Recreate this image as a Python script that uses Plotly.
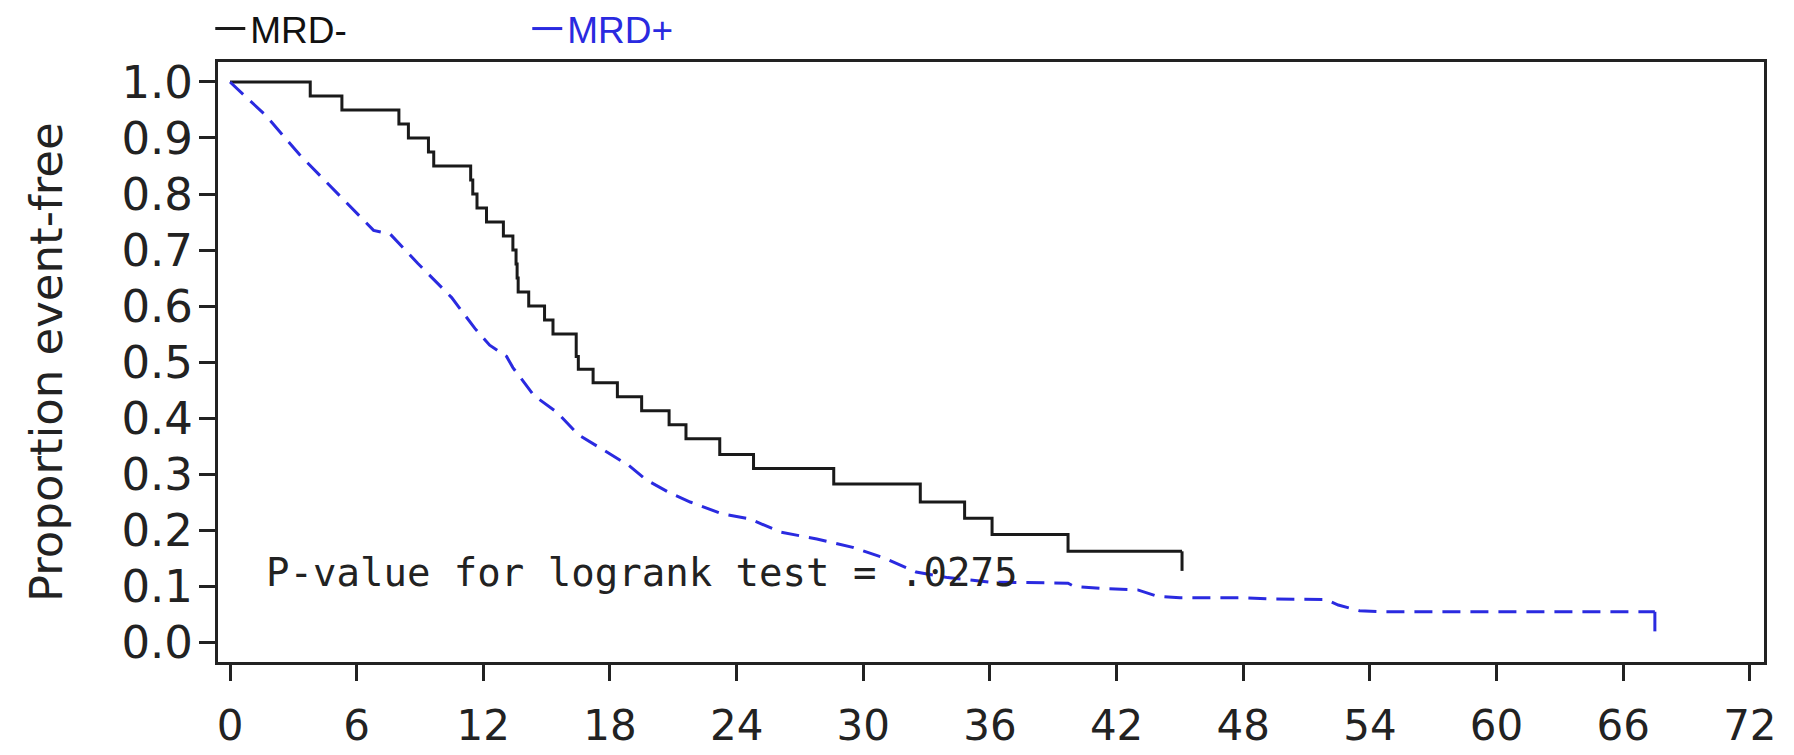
import plotly.graph_objects as go

# MRD- (black, step function; last point = censored end)
mrd_neg_time = [0, 3.8, 5.3, 8.0, 8.45, 9.4, 9.65, 11.4, 11.5, 11.7, 12.15, 12.95, 13.4,
                13.55, 13.6, 13.65, 14.15, 14.9, 15.3, 16.4, 16.5, 17.2, 18.35, 19.5, 20.8,
                21.6, 23.2, 24.8, 28.6, 32.7, 34.8, 36.1, 39.7, 45.1]
mrd_neg_surv = [1.0, 0.975, 0.95, 0.925, 0.90, 0.875, 0.85, 0.825, 0.80, 0.775, 0.75, 0.725, 0.70,
                0.675, 0.65, 0.625, 0.60, 0.575, 0.55, 0.51, 0.487, 0.463, 0.438, 0.413, 0.388,
                0.363, 0.335, 0.310, 0.282, 0.250, 0.221, 0.192, 0.162, 0.162]

# MRD+ (blue dashed)
mrd_pos_time = [0, 1.7, 3.3, 5.4, 6.8, 7.6, 8.9, 10.5, 11.6, 12.3, 13.1, 13.4, 14.4, 15.5, 16.5,
                17.6, 18.9, 19.7, 20.8, 21.8, 23.3, 24.6, 26.1, 27.8, 29.5, 31.0, 32.5, 34.0,
                36.0, 39.7, 40.0, 41.6, 43.0, 43.9, 45.0, 48.0, 49.3, 51.9, 52.5, 53.5, 54.7, 67.5]
mrd_pos_surv = [1.0, 0.94, 0.87, 0.79, 0.735, 0.728, 0.676, 0.615, 0.56, 0.53, 0.51, 0.49, 0.44,
                0.41, 0.37, 0.345, 0.315, 0.29, 0.267, 0.25, 0.229, 0.22, 0.196, 0.184, 0.169,
                0.15, 0.125, 0.115, 0.107, 0.105, 0.099, 0.095, 0.093, 0.082, 0.079, 0.079,
                0.077, 0.076, 0.066, 0.056, 0.054, 0.054]

x_ticks = list(range(0, 73, 6))
y_ticks = [round(i * 0.1, 1) for i in range(11)]
y_title = "Proportion event-free"
p_text = "P-value for logrank test = .0275"
series_names = ["MRD-", "MRD+"]

BLACK = "#1a1a1a"
BLUE = "#2a2ae0"
CENSOR_LEN = 0.035

fig = go.Figure()
fig.add_trace(go.Scatter(x=mrd_neg_time, y=mrd_neg_surv, mode="lines", line_shape="hv",
                         line=dict(color=BLACK, width=3), showlegend=False,
                         name=series_names[0]))
fig.add_trace(go.Scatter(x=mrd_pos_time, y=mrd_pos_surv, mode="lines",
                         line=dict(color=BLUE, width=3, dash="18px,10px"), showlegend=False,
                         name=series_names[1]))
# censor ticks at the end of each curve (also used as legend entries)
fig.add_trace(go.Scatter(x=[mrd_neg_time[-1]] * 2,
                         y=[mrd_neg_surv[-1], mrd_neg_surv[-1] - CENSOR_LEN],
                         mode="lines", line=dict(color=BLACK, width=3), name=series_names[0]))
fig.add_trace(go.Scatter(x=[mrd_pos_time[-1]] * 2,
                         y=[mrd_pos_surv[-1], mrd_pos_surv[-1] - CENSOR_LEN],
                         mode="lines", line=dict(color=BLUE, width=3),
                         name="<span style='color:%s'>%s</span>" % (BLUE, series_names[1])))

fig.add_annotation(x=1.6, y=0.125, xref="x", yref="y", text=p_text, showarrow=False,
                   xanchor="left", yanchor="middle",
                   font=dict(family="DejaVu Sans Mono", size=39, color="#222"))
fig.add_annotation(x=0, y=0.5, xref="paper", yref="paper", text=y_title, showarrow=False,
                   textangle=-90, xanchor="center", yanchor="middle", xshift=-172,
                   font=dict(family="DejaVu Sans", size=45, color="#222"))

axis_common = dict(showline=True, linecolor="#222", linewidth=3, mirror=True,
                   ticks="outside", ticklen=16, tickwidth=3, tickcolor="#222",
                   showgrid=False, zeroline=False, automargin=False)

fig.update_layout(
    width=1794, height=755,
    margin=dict(l=218, r=30, t=62, b=93, autoexpand=False),
    paper_bgcolor="white", plot_bgcolor="white",
    xaxis=dict(range=[-0.57, 72.67], tickvals=x_ticks, ticklabelstandoff=9,
               tickfont=dict(family="DejaVu Sans", size=42, color="#222"), **axis_common),
    yaxis=dict(range=[-0.0357, 1.0357], tickvals=y_ticks, tickformat=".1f", ticklabelstandoff=-3,
               tickfont=dict(family="DejaVu Sans", size=45, color="#222"), **axis_common),
    legend=dict(orientation="h", x=-0.005, y=1.055, xanchor="left", yanchor="middle",
                itemwidth=30, entrywidth=272, entrywidthmode="pixels",
                font=dict(family="Liberation Sans", size=37, color="#111"),
                bgcolor="rgba(0,0,0,0)"),
)

fig.write_html("out.html")
